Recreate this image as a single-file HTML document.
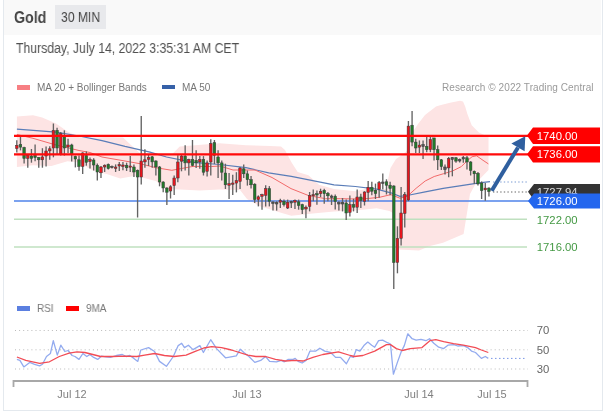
<!DOCTYPE html>
<html><head><meta charset="utf-8">
<style>
html,body{margin:0;padding:0;background:#fff;}
body{width:609px;height:415px;position:relative;overflow:hidden;font-family:"Liberation Sans",sans-serif;}
.frame{position:absolute;left:3px;top:-1px;width:598px;height:410px;border:1px solid #e4e9ee;}
.hdr{position:absolute;left:4px;top:0;width:597px;height:35px;background:#f9f9f9;}
.t{position:absolute;white-space:nowrap;line-height:1;will-change:transform;}
svg{position:absolute;left:0;top:0;will-change:transform;}
</style></head><body>
<div class="frame"></div>
<div class="hdr"></div>
<div class="t" style="left:13.8px;top:9.5px;font-size:15.8px;font-weight:bold;color:#444;transform:scaleX(0.9);transform-origin:0 0;">Gold</div>
<div style="position:absolute;left:55px;top:5px;width:51px;height:24px;background:#e8e9ec;"></div>
<div class="t" style="left:61px;top:10px;font-size:14.2px;color:#444;transform:scaleX(0.855);transform-origin:0 0;">30 MIN</div>
<div class="t" style="left:16px;top:41px;font-size:14px;color:#505050;transform:scaleX(0.875);transform-origin:0 0;">Thursday, July 14, 2022 3:35:31 AM CET</div>
<div style="position:absolute;left:17px;top:85px;width:13px;height:5px;background:#f77f83;"></div>
<div class="t" style="left:37px;top:83px;font-size:10px;color:#777;">MA 20 + Bollinger Bands</div>
<div style="position:absolute;left:162px;top:85px;width:13px;height:4px;background:#3661a8;"></div>
<div class="t" style="left:182px;top:83px;font-size:10px;color:#777;">MA 50</div>
<div class="t" style="left:442px;top:83px;font-size:10px;color:#9a9a9a;letter-spacing:0.08px;">Research © 2022 Trading Central</div>
<div style="position:absolute;left:17px;top:305.5px;width:13px;height:5px;background:#5b7fe0;"></div>
<div class="t" style="left:37px;top:303px;font-size:10.5px;color:#777;transform:scaleX(0.95);transform-origin:0 0;">RSI</div>
<div style="position:absolute;left:66px;top:305.5px;width:13px;height:5px;background:#f00;"></div>
<div class="t" style="left:86px;top:303px;font-size:10.5px;color:#777;transform:scaleX(0.95);transform-origin:0 0;">9MA</div>

<svg width="609" height="415" viewBox="0 0 609 415">
<polygon points="16.9,116.5 33,115.3 42.2,117.6 56,123.4 67.5,131.4 79,137.2 92.8,137.5 106.6,137 123,137.5 132,146 140,153.3 171.8,154.4 179.7,146.5 219.5,143.3 246,145.2 270,146 281,146.5 285,150 291.3,162 297.7,172 308.4,175.2 319,184.8 334,189.1 355.4,191.2 366,189.1 378,189.5 386,189 390.5,168 396,159 402,155 408,150 412,133 418,124 425,115 436,106.5 440,105.2 450,102.8 460,100.7 463,101.4 465.2,106.5 467.3,113.7 471.7,125.2 478.9,132.5 488.5,137 488.5,170 476,183 470,194 467,213 463.6,234 443,242.7 430,246 419,250.5 398,249.5 395,240 393,213 389.5,211 376.7,208.3 355.4,210.4 334,211.5 312.7,213.6 291.3,215.8 278.5,212 269,209 259,206 247,199 240,190 219.4,189.6 199.7,190.5 180,189.6 166.5,188.9 155.9,181 140,177 134.1,176 120.3,178.6 106.6,174 92.8,170.5 79,162.5 67.5,161.3 51.4,165.9 33,165.2 16.9,167" fill="#fde4e4"/>
<polyline points="16.9,129.1 56,132.1 79,136 102,140.6 125,146.4 150,152.1 166.5,157 193,162.4 219.5,164.5 246,167.7 268.7,172.8 291.3,176.3 312.7,180.6 334,184.8 355.4,186.5 376.7,189.1 390.8,192.8 399.9,196.4 407.1,195.5 425.2,191.9 443.2,188.3 461.3,185.6 479.3,182.9 490,181.6" fill="none" stroke="#5a7db8" stroke-width="1.2"/>
<polyline points="16.9,134.5 33,138.3 56,145 79,150.5 90,152.5 102,157 125,161 140,163.7 155.9,167.7 171.8,170.3 193,166.4 211.5,166.5 220,166 233,170 255,170 272,177.5 291,188.6 308.4,195.5 325.5,198.7 340.4,198.7 357,199 368,198.5 380,197.2 390.8,194.6 399.9,198.2 407.1,196.4 416.1,188.3 425.2,181 434.2,176.5 443.2,173.8 452.3,171.1 461.3,166.6 466.7,161.2 472.1,156.7 476.6,155.8 483,160.3 488.4,163.9" fill="none" stroke="#f26a6a" stroke-width="1"/>
<line x1="14" y1="201" x2="530" y2="201" stroke="#4f83ea" stroke-width="1.6"/>
<line x1="14" y1="219.3" x2="527" y2="219.3" stroke="#bfe0bf" stroke-width="1.5"/>
<line x1="14" y1="247.1" x2="527" y2="247.1" stroke="#bfe0bf" stroke-width="1.5"/>
<line x1="16.80" y1="140.3" x2="16.80" y2="152.6" stroke="#636363" stroke-width="1.35"/>
<rect x="15.50" y="145.3" width="2.6" height="3.20" fill="#e8141c" stroke="#3a3a3a" stroke-width="0.5"/>
<line x1="20.46" y1="136.7" x2="20.46" y2="150.4" stroke="#636363" stroke-width="1.35"/>
<rect x="19.16" y="144.6" width="2.6" height="2.50" fill="#217a2a" stroke="#3a3a3a" stroke-width="0.5"/>
<line x1="24.12" y1="146.8" x2="24.12" y2="163.4" stroke="#636363" stroke-width="1.35"/>
<rect x="22.82" y="147.5" width="2.6" height="10.90" fill="#217a2a" stroke="#3a3a3a" stroke-width="0.5"/>
<line x1="27.78" y1="154" x2="27.78" y2="167.7" stroke="#636363" stroke-width="1.35"/>
<rect x="26.48" y="155.5" width="2.6" height="2.90" fill="#e8141c" stroke="#3a3a3a" stroke-width="0.5"/>
<line x1="31.44" y1="149" x2="31.44" y2="162.7" stroke="#636363" stroke-width="1.35"/>
<rect x="30.14" y="156" width="2.6" height="2.40" fill="#217a2a" stroke="#3a3a3a" stroke-width="0.5"/>
<line x1="35.10" y1="144.6" x2="35.10" y2="161.2" stroke="#636363" stroke-width="1.35"/>
<rect x="33.80" y="155.5" width="2.6" height="2.10" fill="#217a2a" stroke="#3a3a3a" stroke-width="0.5"/>
<line x1="38.76" y1="156.9" x2="38.76" y2="167.7" stroke="#636363" stroke-width="1.35"/>
<rect x="37.46" y="157.6" width="2.6" height="2.20" fill="#217a2a" stroke="#3a3a3a" stroke-width="0.5"/>
<line x1="42.42" y1="148.2" x2="42.42" y2="167.7" stroke="#636363" stroke-width="1.35"/>
<rect x="41.12" y="156.9" width="2.6" height="2.90" fill="#e8141c" stroke="#3a3a3a" stroke-width="0.5"/>
<line x1="46.08" y1="146.5" x2="46.08" y2="166.4" stroke="#636363" stroke-width="1.35"/>
<rect x="44.78" y="151" width="2.6" height="5.00" fill="#e8141c" stroke="#3a3a3a" stroke-width="0.5"/>
<line x1="49.74" y1="146.3" x2="49.74" y2="159.8" stroke="#636363" stroke-width="1.35"/>
<rect x="48.44" y="148.8" width="2.6" height="2.10" fill="#e8141c" stroke="#3a3a3a" stroke-width="0.5"/>
<line x1="53.40" y1="123.5" x2="53.40" y2="157.3" stroke="#636363" stroke-width="1.35"/>
<rect x="52.10" y="130.3" width="2.6" height="17.70" fill="#e8141c" stroke="#3a3a3a" stroke-width="0.5"/>
<line x1="57.06" y1="127.8" x2="57.06" y2="153.9" stroke="#636363" stroke-width="1.35"/>
<rect x="55.76" y="130.3" width="2.6" height="17.70" fill="#217a2a" stroke="#3a3a3a" stroke-width="0.5"/>
<line x1="60.72" y1="132" x2="60.72" y2="155.6" stroke="#636363" stroke-width="1.35"/>
<rect x="59.42" y="133.7" width="2.6" height="20.20" fill="#e8141c" stroke="#3a3a3a" stroke-width="0.5"/>
<line x1="64.38" y1="130.3" x2="64.38" y2="155.6" stroke="#636363" stroke-width="1.35"/>
<rect x="63.08" y="136.2" width="2.6" height="11.80" fill="#217a2a" stroke="#3a3a3a" stroke-width="0.5"/>
<line x1="68.04" y1="138.7" x2="68.04" y2="153" stroke="#636363" stroke-width="1.35"/>
<rect x="66.74" y="145" width="2.6" height="2.00" fill="#e8141c" stroke="#3a3a3a" stroke-width="0.5"/>
<line x1="71.70" y1="143.8" x2="71.70" y2="161.5" stroke="#636363" stroke-width="1.35"/>
<rect x="70.40" y="145" width="2.6" height="8.90" fill="#217a2a" stroke="#3a3a3a" stroke-width="0.5"/>
<line x1="75.36" y1="155.6" x2="75.36" y2="167.4" stroke="#636363" stroke-width="1.35"/>
<rect x="74.06" y="156.4" width="2.6" height="2.60" fill="#217a2a" stroke="#3a3a3a" stroke-width="0.5"/>
<line x1="79.02" y1="155.6" x2="79.02" y2="170.8" stroke="#636363" stroke-width="1.35"/>
<rect x="77.72" y="159.8" width="2.6" height="6.70" fill="#217a2a" stroke="#3a3a3a" stroke-width="0.5"/>
<line x1="82.68" y1="152.2" x2="82.68" y2="174" stroke="#636363" stroke-width="1.35"/>
<rect x="81.38" y="153" width="2.6" height="13.50" fill="#e8141c" stroke="#3a3a3a" stroke-width="0.5"/>
<line x1="86.34" y1="151.4" x2="86.34" y2="165.7" stroke="#636363" stroke-width="1.35"/>
<rect x="85.04" y="155.6" width="2.6" height="6.70" fill="#217a2a" stroke="#3a3a3a" stroke-width="0.5"/>
<line x1="90.00" y1="157.5" x2="90.00" y2="168.4" stroke="#636363" stroke-width="1.35"/>
<rect x="88.70" y="159.6" width="2.6" height="1.90" fill="#e8141c" stroke="#3a3a3a" stroke-width="0.5"/>
<line x1="93.66" y1="158.2" x2="93.66" y2="170.5" stroke="#636363" stroke-width="1.35"/>
<rect x="92.36" y="160" width="2.6" height="5.00" fill="#217a2a" stroke="#3a3a3a" stroke-width="0.5"/>
<line x1="97.32" y1="163.5" x2="97.32" y2="180.4" stroke="#636363" stroke-width="1.35"/>
<rect x="96.02" y="165.2" width="2.6" height="6.80" fill="#217a2a" stroke="#3a3a3a" stroke-width="0.5"/>
<line x1="100.98" y1="166" x2="100.98" y2="177.9" stroke="#636363" stroke-width="1.35"/>
<rect x="99.68" y="167" width="2.6" height="5.80" fill="#e8141c" stroke="#3a3a3a" stroke-width="0.5"/>
<line x1="104.64" y1="164.4" x2="104.64" y2="172" stroke="#636363" stroke-width="1.35"/>
<rect x="103.34" y="165.2" width="2.6" height="1.80" fill="#e8141c" stroke="#3a3a3a" stroke-width="0.5"/>
<line x1="108.30" y1="163.5" x2="108.30" y2="169.5" stroke="#636363" stroke-width="1.35"/>
<rect x="107.00" y="164.4" width="2.6" height="4.20" fill="#217a2a" stroke="#3a3a3a" stroke-width="0.5"/>
<line x1="111.96" y1="165.5" x2="111.96" y2="168.5" stroke="#636363" stroke-width="1.35"/>
<rect x="110.66" y="166.5" width="2.6" height="1.20" fill="#555" stroke="#3a3a3a" stroke-width="0.5"/>
<line x1="115.62" y1="164.4" x2="115.62" y2="172" stroke="#636363" stroke-width="1.35"/>
<rect x="114.32" y="167" width="2.6" height="1.50" fill="#e8141c" stroke="#3a3a3a" stroke-width="0.5"/>
<line x1="119.28" y1="161.9" x2="119.28" y2="171" stroke="#636363" stroke-width="1.35"/>
<rect x="117.98" y="164.5" width="2.6" height="1.50" fill="#e8141c" stroke="#3a3a3a" stroke-width="0.5"/>
<line x1="122.94" y1="161.9" x2="122.94" y2="170.3" stroke="#636363" stroke-width="1.35"/>
<rect x="121.64" y="165" width="2.6" height="1.50" fill="#e8141c" stroke="#3a3a3a" stroke-width="0.5"/>
<line x1="126.60" y1="162.7" x2="126.60" y2="171" stroke="#636363" stroke-width="1.35"/>
<rect x="125.30" y="165.2" width="2.6" height="2.60" fill="#217a2a" stroke="#3a3a3a" stroke-width="0.5"/>
<line x1="130.26" y1="156" x2="130.26" y2="172" stroke="#636363" stroke-width="1.35"/>
<rect x="128.96" y="166" width="2.6" height="1.20" fill="#e8141c" stroke="#3a3a3a" stroke-width="0.5"/>
<line x1="133.92" y1="164.4" x2="133.92" y2="177" stroke="#636363" stroke-width="1.35"/>
<rect x="132.62" y="167" width="2.6" height="5.00" fill="#217a2a" stroke="#3a3a3a" stroke-width="0.5"/>
<line x1="137.58" y1="169.5" x2="137.58" y2="217.5" stroke="#636363" stroke-width="1.35"/>
<rect x="136.28" y="170.3" width="2.6" height="6.70" fill="#217a2a" stroke="#3a3a3a" stroke-width="0.5"/>
<line x1="141.24" y1="116" x2="141.24" y2="184.6" stroke="#636363" stroke-width="1.35"/>
<rect x="139.94" y="161" width="2.6" height="16.00" fill="#e8141c" stroke="#3a3a3a" stroke-width="0.5"/>
<line x1="144.90" y1="149.2" x2="144.90" y2="167.8" stroke="#636363" stroke-width="1.35"/>
<rect x="143.60" y="159.8" width="2.6" height="2.10" fill="#e8141c" stroke="#3a3a3a" stroke-width="0.5"/>
<line x1="148.56" y1="155" x2="148.56" y2="166" stroke="#636363" stroke-width="1.35"/>
<rect x="147.26" y="157.6" width="2.6" height="1.70" fill="#e8141c" stroke="#3a3a3a" stroke-width="0.5"/>
<line x1="152.22" y1="156" x2="152.22" y2="167.8" stroke="#636363" stroke-width="1.35"/>
<rect x="150.92" y="156.8" width="2.6" height="5.10" fill="#217a2a" stroke="#3a3a3a" stroke-width="0.5"/>
<line x1="155.88" y1="160.2" x2="155.88" y2="175.4" stroke="#636363" stroke-width="1.35"/>
<rect x="154.58" y="161" width="2.6" height="6.00" fill="#217a2a" stroke="#3a3a3a" stroke-width="0.5"/>
<line x1="159.54" y1="166" x2="159.54" y2="186.3" stroke="#636363" stroke-width="1.35"/>
<rect x="158.24" y="167" width="2.6" height="15.00" fill="#217a2a" stroke="#3a3a3a" stroke-width="0.5"/>
<line x1="163.20" y1="181.3" x2="163.20" y2="192.2" stroke="#636363" stroke-width="1.35"/>
<rect x="161.90" y="182" width="2.6" height="6.00" fill="#217a2a" stroke="#3a3a3a" stroke-width="0.5"/>
<line x1="166.86" y1="187.2" x2="166.86" y2="204.9" stroke="#636363" stroke-width="1.35"/>
<rect x="165.56" y="188" width="2.6" height="4.20" fill="#217a2a" stroke="#3a3a3a" stroke-width="0.5"/>
<line x1="170.52" y1="185.2" x2="170.52" y2="198.5" stroke="#636363" stroke-width="1.35"/>
<rect x="169.22" y="186.8" width="2.6" height="4.20" fill="#e8141c" stroke="#3a3a3a" stroke-width="0.5"/>
<line x1="174.18" y1="175.5" x2="174.18" y2="195" stroke="#636363" stroke-width="1.35"/>
<rect x="172.88" y="178" width="2.6" height="7.60" fill="#e8141c" stroke="#3a3a3a" stroke-width="0.5"/>
<line x1="177.84" y1="155.3" x2="177.84" y2="182.3" stroke="#636363" stroke-width="1.35"/>
<rect x="176.54" y="162" width="2.6" height="16.00" fill="#e8141c" stroke="#3a3a3a" stroke-width="0.5"/>
<line x1="181.50" y1="154.5" x2="181.50" y2="171.3" stroke="#636363" stroke-width="1.35"/>
<rect x="180.20" y="156.1" width="2.6" height="5.10" fill="#e8141c" stroke="#3a3a3a" stroke-width="0.5"/>
<line x1="185.16" y1="145.2" x2="185.16" y2="170.5" stroke="#636363" stroke-width="1.35"/>
<rect x="183.86" y="156.1" width="2.6" height="6.80" fill="#217a2a" stroke="#3a3a3a" stroke-width="0.5"/>
<line x1="188.82" y1="158.7" x2="188.82" y2="175.5" stroke="#636363" stroke-width="1.35"/>
<rect x="187.52" y="159.5" width="2.6" height="3.40" fill="#e8141c" stroke="#3a3a3a" stroke-width="0.5"/>
<line x1="192.48" y1="140" x2="192.48" y2="166.3" stroke="#636363" stroke-width="1.35"/>
<rect x="191.18" y="159.5" width="2.6" height="5.90" fill="#217a2a" stroke="#3a3a3a" stroke-width="0.5"/>
<line x1="196.14" y1="150.2" x2="196.14" y2="168" stroke="#636363" stroke-width="1.35"/>
<rect x="194.84" y="160.4" width="2.6" height="2.50" fill="#217a2a" stroke="#3a3a3a" stroke-width="0.5"/>
<line x1="199.80" y1="156.1" x2="199.80" y2="168.8" stroke="#636363" stroke-width="1.35"/>
<rect x="198.50" y="159.5" width="2.6" height="2.50" fill="#e8141c" stroke="#3a3a3a" stroke-width="0.5"/>
<line x1="203.46" y1="156.1" x2="203.46" y2="175.5" stroke="#636363" stroke-width="1.35"/>
<rect x="202.16" y="159.5" width="2.6" height="12.70" fill="#217a2a" stroke="#3a3a3a" stroke-width="0.5"/>
<line x1="207.12" y1="160.4" x2="207.12" y2="176.4" stroke="#636363" stroke-width="1.35"/>
<rect x="205.82" y="162.9" width="2.6" height="8.40" fill="#e8141c" stroke="#3a3a3a" stroke-width="0.5"/>
<line x1="210.78" y1="139.3" x2="210.78" y2="175.5" stroke="#636363" stroke-width="1.35"/>
<rect x="209.48" y="143.5" width="2.6" height="18.50" fill="#e8141c" stroke="#3a3a3a" stroke-width="0.5"/>
<line x1="214.44" y1="140" x2="214.44" y2="164" stroke="#636363" stroke-width="1.35"/>
<rect x="213.14" y="142.6" width="2.6" height="12.70" fill="#217a2a" stroke="#3a3a3a" stroke-width="0.5"/>
<line x1="218.10" y1="150.2" x2="218.10" y2="178" stroke="#636363" stroke-width="1.35"/>
<rect x="216.80" y="157" width="2.6" height="5.90" fill="#217a2a" stroke="#3a3a3a" stroke-width="0.5"/>
<line x1="221.76" y1="160.4" x2="221.76" y2="180.6" stroke="#636363" stroke-width="1.35"/>
<rect x="220.46" y="162.9" width="2.6" height="9.30" fill="#217a2a" stroke="#3a3a3a" stroke-width="0.5"/>
<line x1="225.42" y1="163.7" x2="225.42" y2="189" stroke="#636363" stroke-width="1.35"/>
<rect x="224.12" y="173" width="2.6" height="11.80" fill="#217a2a" stroke="#3a3a3a" stroke-width="0.5"/>
<line x1="229.08" y1="173" x2="229.08" y2="199" stroke="#636363" stroke-width="1.35"/>
<rect x="227.78" y="183.6" width="2.6" height="1.70" fill="#e8141c" stroke="#3a3a3a" stroke-width="0.5"/>
<line x1="232.74" y1="174.7" x2="232.74" y2="195" stroke="#636363" stroke-width="1.35"/>
<rect x="231.44" y="183" width="2.6" height="1.30" fill="#e8141c" stroke="#3a3a3a" stroke-width="0.5"/>
<line x1="236.40" y1="172.2" x2="236.40" y2="192.4" stroke="#636363" stroke-width="1.35"/>
<rect x="235.10" y="180.6" width="2.6" height="2.50" fill="#e8141c" stroke="#3a3a3a" stroke-width="0.5"/>
<line x1="240.06" y1="167" x2="240.06" y2="189" stroke="#636363" stroke-width="1.35"/>
<rect x="238.76" y="168" width="2.6" height="13.40" fill="#e8141c" stroke="#3a3a3a" stroke-width="0.5"/>
<line x1="243.72" y1="164.6" x2="243.72" y2="178" stroke="#636363" stroke-width="1.35"/>
<rect x="242.42" y="168.8" width="2.6" height="5.00" fill="#217a2a" stroke="#3a3a3a" stroke-width="0.5"/>
<line x1="247.38" y1="170.5" x2="247.38" y2="185.6" stroke="#636363" stroke-width="1.35"/>
<rect x="246.08" y="173.8" width="2.6" height="5.90" fill="#217a2a" stroke="#3a3a3a" stroke-width="0.5"/>
<line x1="251.04" y1="176" x2="251.04" y2="188.5" stroke="#636363" stroke-width="1.35"/>
<rect x="249.74" y="179.7" width="2.6" height="5.10" fill="#217a2a" stroke="#3a3a3a" stroke-width="0.5"/>
<line x1="254.70" y1="183.3" x2="254.70" y2="203" stroke="#636363" stroke-width="1.35"/>
<rect x="253.40" y="184.2" width="2.6" height="15.30" fill="#217a2a" stroke="#3a3a3a" stroke-width="0.5"/>
<line x1="258.36" y1="195.4" x2="258.36" y2="206.4" stroke="#636363" stroke-width="1.35"/>
<rect x="257.06" y="196.8" width="2.6" height="2.80" fill="#e8141c" stroke="#3a3a3a" stroke-width="0.5"/>
<line x1="262.02" y1="193.7" x2="262.02" y2="209.7" stroke="#636363" stroke-width="1.35"/>
<rect x="260.72" y="194.6" width="2.6" height="1.70" fill="#e8141c" stroke="#3a3a3a" stroke-width="0.5"/>
<line x1="265.68" y1="185.3" x2="265.68" y2="206.4" stroke="#636363" stroke-width="1.35"/>
<rect x="264.38" y="188.7" width="2.6" height="6.70" fill="#e8141c" stroke="#3a3a3a" stroke-width="0.5"/>
<line x1="269.34" y1="186.1" x2="269.34" y2="206.4" stroke="#636363" stroke-width="1.35"/>
<rect x="268.04" y="188.7" width="2.6" height="12.60" fill="#217a2a" stroke="#3a3a3a" stroke-width="0.5"/>
<line x1="273.00" y1="201.3" x2="273.00" y2="210.6" stroke="#636363" stroke-width="1.35"/>
<rect x="271.70" y="202" width="2.6" height="1.50" fill="#555" stroke="#3a3a3a" stroke-width="0.5"/>
<line x1="276.66" y1="201.3" x2="276.66" y2="210.6" stroke="#636363" stroke-width="1.35"/>
<rect x="275.36" y="202.5" width="2.6" height="1.50" fill="#555" stroke="#3a3a3a" stroke-width="0.5"/>
<line x1="280.32" y1="198.8" x2="280.32" y2="208" stroke="#636363" stroke-width="1.35"/>
<rect x="279.02" y="200.5" width="2.6" height="1.70" fill="#e8141c" stroke="#3a3a3a" stroke-width="0.5"/>
<line x1="283.98" y1="199.6" x2="283.98" y2="206.4" stroke="#636363" stroke-width="1.35"/>
<rect x="282.68" y="201.3" width="2.6" height="3.40" fill="#217a2a" stroke="#3a3a3a" stroke-width="0.5"/>
<line x1="287.64" y1="199.6" x2="287.64" y2="209" stroke="#636363" stroke-width="1.35"/>
<rect x="286.34" y="202.2" width="2.6" height="5.80" fill="#e8141c" stroke="#3a3a3a" stroke-width="0.5"/>
<line x1="291.30" y1="200.8" x2="291.30" y2="208" stroke="#636363" stroke-width="1.35"/>
<rect x="290.00" y="201.5" width="2.6" height="1.50" fill="#555" stroke="#3a3a3a" stroke-width="0.5"/>
<line x1="294.96" y1="199.6" x2="294.96" y2="209" stroke="#636363" stroke-width="1.35"/>
<rect x="293.66" y="200.5" width="2.6" height="1.70" fill="#e8141c" stroke="#3a3a3a" stroke-width="0.5"/>
<line x1="298.62" y1="199.6" x2="298.62" y2="209.7" stroke="#636363" stroke-width="1.35"/>
<rect x="297.32" y="201.8" width="2.6" height="3.70" fill="#217a2a" stroke="#3a3a3a" stroke-width="0.5"/>
<line x1="302.28" y1="203.8" x2="302.28" y2="214" stroke="#636363" stroke-width="1.35"/>
<rect x="300.98" y="204.7" width="2.6" height="5.00" fill="#217a2a" stroke="#3a3a3a" stroke-width="0.5"/>
<line x1="305.94" y1="205.5" x2="305.94" y2="218.2" stroke="#636363" stroke-width="1.35"/>
<rect x="304.64" y="207.2" width="2.6" height="1.80" fill="#e8141c" stroke="#3a3a3a" stroke-width="0.5"/>
<line x1="309.60" y1="192" x2="309.60" y2="211.4" stroke="#636363" stroke-width="1.35"/>
<rect x="308.30" y="195.4" width="2.6" height="11.00" fill="#e8141c" stroke="#3a3a3a" stroke-width="0.5"/>
<line x1="313.26" y1="189.5" x2="313.26" y2="201.3" stroke="#636363" stroke-width="1.35"/>
<rect x="311.96" y="194.6" width="2.6" height="1.20" fill="#e8141c" stroke="#3a3a3a" stroke-width="0.5"/>
<line x1="316.92" y1="190.4" x2="316.92" y2="204.7" stroke="#636363" stroke-width="1.35"/>
<rect x="315.62" y="193.7" width="2.6" height="1.30" fill="#217a2a" stroke="#3a3a3a" stroke-width="0.5"/>
<line x1="320.58" y1="188.7" x2="320.58" y2="197" stroke="#636363" stroke-width="1.35"/>
<rect x="319.28" y="191.2" width="2.6" height="2.50" fill="#e8141c" stroke="#3a3a3a" stroke-width="0.5"/>
<line x1="324.24" y1="188.7" x2="324.24" y2="203.8" stroke="#636363" stroke-width="1.35"/>
<rect x="322.94" y="190.4" width="2.6" height="3.30" fill="#217a2a" stroke="#3a3a3a" stroke-width="0.5"/>
<line x1="327.90" y1="192" x2="327.90" y2="201.3" stroke="#636363" stroke-width="1.35"/>
<rect x="326.60" y="193.4" width="2.6" height="2.40" fill="#217a2a" stroke="#3a3a3a" stroke-width="0.5"/>
<line x1="331.56" y1="194.6" x2="331.56" y2="205" stroke="#636363" stroke-width="1.35"/>
<rect x="330.26" y="196" width="2.6" height="1.50" fill="#555" stroke="#3a3a3a" stroke-width="0.5"/>
<line x1="335.22" y1="194.6" x2="335.22" y2="209.5" stroke="#636363" stroke-width="1.35"/>
<rect x="333.92" y="196.3" width="2.6" height="5.20" fill="#217a2a" stroke="#3a3a3a" stroke-width="0.5"/>
<line x1="338.88" y1="201.3" x2="338.88" y2="210.6" stroke="#636363" stroke-width="1.35"/>
<rect x="337.58" y="202.5" width="2.6" height="1.50" fill="#555" stroke="#3a3a3a" stroke-width="0.5"/>
<line x1="342.54" y1="198" x2="342.54" y2="211.4" stroke="#636363" stroke-width="1.35"/>
<rect x="341.24" y="202.5" width="2.6" height="1.50" fill="#555" stroke="#3a3a3a" stroke-width="0.5"/>
<line x1="346.20" y1="199.6" x2="346.20" y2="219.9" stroke="#636363" stroke-width="1.35"/>
<rect x="344.90" y="203" width="2.6" height="10.00" fill="#217a2a" stroke="#3a3a3a" stroke-width="0.5"/>
<line x1="349.86" y1="195.4" x2="349.86" y2="216.5" stroke="#636363" stroke-width="1.35"/>
<rect x="348.56" y="204.7" width="2.6" height="7.60" fill="#e8141c" stroke="#3a3a3a" stroke-width="0.5"/>
<line x1="353.52" y1="198.8" x2="353.52" y2="211.4" stroke="#636363" stroke-width="1.35"/>
<rect x="352.22" y="204.7" width="2.6" height="2.50" fill="#217a2a" stroke="#3a3a3a" stroke-width="0.5"/>
<line x1="357.18" y1="189.5" x2="357.18" y2="213" stroke="#636363" stroke-width="1.35"/>
<rect x="355.88" y="197" width="2.6" height="10.20" fill="#e8141c" stroke="#3a3a3a" stroke-width="0.5"/>
<line x1="360.84" y1="193.7" x2="360.84" y2="208" stroke="#636363" stroke-width="1.35"/>
<rect x="359.54" y="197" width="2.6" height="3.50" fill="#217a2a" stroke="#3a3a3a" stroke-width="0.5"/>
<line x1="364.50" y1="191.2" x2="364.50" y2="205.5" stroke="#636363" stroke-width="1.35"/>
<rect x="363.20" y="192" width="2.6" height="9.30" fill="#e8141c" stroke="#3a3a3a" stroke-width="0.5"/>
<line x1="368.16" y1="181" x2="368.16" y2="201.3" stroke="#636363" stroke-width="1.35"/>
<rect x="366.86" y="187.3" width="2.6" height="5.20" fill="#e8141c" stroke="#3a3a3a" stroke-width="0.5"/>
<line x1="371.82" y1="181.8" x2="371.82" y2="195.3" stroke="#636363" stroke-width="1.35"/>
<rect x="370.52" y="187.3" width="2.6" height="3.90" fill="#217a2a" stroke="#3a3a3a" stroke-width="0.5"/>
<line x1="375.48" y1="183.6" x2="375.48" y2="199" stroke="#636363" stroke-width="1.35"/>
<rect x="374.18" y="190.3" width="2.6" height="3.20" fill="#217a2a" stroke="#3a3a3a" stroke-width="0.5"/>
<line x1="379.14" y1="181" x2="379.14" y2="197.8" stroke="#636363" stroke-width="1.35"/>
<rect x="377.84" y="182.6" width="2.6" height="6.80" fill="#e8141c" stroke="#3a3a3a" stroke-width="0.5"/>
<line x1="382.80" y1="173.4" x2="382.80" y2="189.4" stroke="#636363" stroke-width="1.35"/>
<rect x="381.50" y="182" width="2.6" height="1.50" fill="#555" stroke="#3a3a3a" stroke-width="0.5"/>
<line x1="386.46" y1="179.3" x2="386.46" y2="194.5" stroke="#636363" stroke-width="1.35"/>
<rect x="385.16" y="181.8" width="2.6" height="3.40" fill="#217a2a" stroke="#3a3a3a" stroke-width="0.5"/>
<line x1="390.12" y1="181.8" x2="390.12" y2="195.3" stroke="#636363" stroke-width="1.35"/>
<rect x="388.82" y="185.2" width="2.6" height="3.30" fill="#217a2a" stroke="#3a3a3a" stroke-width="0.5"/>
<line x1="393.78" y1="185.2" x2="393.78" y2="289" stroke="#636363" stroke-width="1.35"/>
<rect x="392.48" y="186" width="2.6" height="76.50" fill="#217a2a" stroke="#3a3a3a" stroke-width="0.5"/>
<line x1="397.44" y1="226.3" x2="397.44" y2="273.3" stroke="#636363" stroke-width="1.35"/>
<rect x="396.14" y="238.4" width="2.6" height="24.10" fill="#e8141c" stroke="#3a3a3a" stroke-width="0.5"/>
<line x1="401.10" y1="186.9" x2="401.10" y2="245.6" stroke="#636363" stroke-width="1.35"/>
<rect x="399.80" y="213" width="2.6" height="25.40" fill="#e8141c" stroke="#3a3a3a" stroke-width="0.5"/>
<line x1="404.76" y1="192" x2="404.76" y2="227.5" stroke="#636363" stroke-width="1.35"/>
<rect x="403.46" y="194.5" width="2.6" height="19.00" fill="#e8141c" stroke="#3a3a3a" stroke-width="0.5"/>
<line x1="408.42" y1="121" x2="408.42" y2="201.2" stroke="#636363" stroke-width="1.35"/>
<rect x="407.12" y="126.1" width="2.6" height="73.90" fill="#e8141c" stroke="#3a3a3a" stroke-width="0.5"/>
<line x1="412.08" y1="110.9" x2="412.08" y2="146.3" stroke="#636363" stroke-width="1.35"/>
<rect x="410.78" y="125.2" width="2.6" height="16.90" fill="#217a2a" stroke="#3a3a3a" stroke-width="0.5"/>
<line x1="415.74" y1="138.7" x2="415.74" y2="153" stroke="#636363" stroke-width="1.35"/>
<rect x="414.44" y="142.1" width="2.6" height="5.90" fill="#217a2a" stroke="#3a3a3a" stroke-width="0.5"/>
<line x1="419.40" y1="140.4" x2="419.40" y2="153" stroke="#636363" stroke-width="1.35"/>
<rect x="418.10" y="145.1" width="2.6" height="2.10" fill="#e8141c" stroke="#3a3a3a" stroke-width="0.5"/>
<line x1="423.06" y1="140.4" x2="423.06" y2="159" stroke="#636363" stroke-width="1.35"/>
<rect x="421.76" y="144.5" width="2.6" height="2.00" fill="#555" stroke="#3a3a3a" stroke-width="0.5"/>
<line x1="426.72" y1="137" x2="426.72" y2="152.2" stroke="#636363" stroke-width="1.35"/>
<rect x="425.42" y="146.3" width="2.6" height="3.40" fill="#217a2a" stroke="#3a3a3a" stroke-width="0.5"/>
<line x1="430.38" y1="137" x2="430.38" y2="152.2" stroke="#636363" stroke-width="1.35"/>
<rect x="429.08" y="139.6" width="2.6" height="10.10" fill="#e8141c" stroke="#3a3a3a" stroke-width="0.5"/>
<line x1="434.04" y1="137.9" x2="434.04" y2="160.6" stroke="#636363" stroke-width="1.35"/>
<rect x="432.74" y="137.9" width="2.6" height="11.80" fill="#217a2a" stroke="#3a3a3a" stroke-width="0.5"/>
<line x1="437.70" y1="145.5" x2="437.70" y2="170" stroke="#636363" stroke-width="1.35"/>
<rect x="436.40" y="149.7" width="2.6" height="10.10" fill="#217a2a" stroke="#3a3a3a" stroke-width="0.5"/>
<line x1="441.36" y1="159" x2="441.36" y2="170" stroke="#636363" stroke-width="1.35"/>
<rect x="440.06" y="159.8" width="2.6" height="6.80" fill="#217a2a" stroke="#3a3a3a" stroke-width="0.5"/>
<line x1="445.02" y1="164.5" x2="445.02" y2="174.6" stroke="#636363" stroke-width="1.35"/>
<rect x="443.72" y="167" width="2.6" height="2.50" fill="#555" stroke="#3a3a3a" stroke-width="0.5"/>
<line x1="448.68" y1="157" x2="448.68" y2="177.2" stroke="#636363" stroke-width="1.35"/>
<rect x="447.38" y="158.6" width="2.6" height="9.30" fill="#e8141c" stroke="#3a3a3a" stroke-width="0.5"/>
<line x1="452.34" y1="157" x2="452.34" y2="176.3" stroke="#636363" stroke-width="1.35"/>
<rect x="451.04" y="157.5" width="2.6" height="2.00" fill="#555" stroke="#3a3a3a" stroke-width="0.5"/>
<line x1="456.00" y1="157" x2="456.00" y2="162.8" stroke="#636363" stroke-width="1.35"/>
<rect x="454.70" y="157.8" width="2.6" height="3.30" fill="#217a2a" stroke="#3a3a3a" stroke-width="0.5"/>
<line x1="459.66" y1="158.5" x2="459.66" y2="162.5" stroke="#636363" stroke-width="1.35"/>
<rect x="458.36" y="159.5" width="2.6" height="1.50" fill="#555" stroke="#3a3a3a" stroke-width="0.5"/>
<line x1="463.32" y1="156" x2="463.32" y2="162.8" stroke="#636363" stroke-width="1.35"/>
<rect x="462.02" y="157.5" width="2.6" height="1.50" fill="#555" stroke="#3a3a3a" stroke-width="0.5"/>
<line x1="466.98" y1="156" x2="466.98" y2="169.6" stroke="#636363" stroke-width="1.35"/>
<rect x="465.68" y="157.8" width="2.6" height="4.20" fill="#217a2a" stroke="#3a3a3a" stroke-width="0.5"/>
<line x1="470.64" y1="161.1" x2="470.64" y2="175.5" stroke="#636363" stroke-width="1.35"/>
<rect x="469.34" y="162" width="2.6" height="8.40" fill="#217a2a" stroke="#3a3a3a" stroke-width="0.5"/>
<line x1="474.30" y1="170.4" x2="474.30" y2="183.9" stroke="#636363" stroke-width="1.35"/>
<rect x="473.00" y="171.3" width="2.6" height="2.50" fill="#217a2a" stroke="#3a3a3a" stroke-width="0.5"/>
<line x1="477.96" y1="172.1" x2="477.96" y2="185.6" stroke="#636363" stroke-width="1.35"/>
<rect x="476.66" y="173.4" width="2.6" height="10.50" fill="#217a2a" stroke="#3a3a3a" stroke-width="0.5"/>
<line x1="481.62" y1="181.4" x2="481.62" y2="199" stroke="#636363" stroke-width="1.35"/>
<rect x="480.32" y="183" width="2.6" height="7.60" fill="#217a2a" stroke="#3a3a3a" stroke-width="0.5"/>
<line x1="485.28" y1="183" x2="485.28" y2="200.8" stroke="#636363" stroke-width="1.35"/>
<rect x="483.98" y="188.1" width="2.6" height="1.70" fill="#e8141c" stroke="#3a3a3a" stroke-width="0.5"/>
<line x1="488.94" y1="187.3" x2="488.94" y2="196.6" stroke="#636363" stroke-width="1.35"/>
<rect x="487.64" y="188.1" width="2.6" height="3.40" fill="#217a2a" stroke="#3a3a3a" stroke-width="0.5"/>
<line x1="14" y1="135.8" x2="530" y2="135.8" stroke="#ff0a0a" stroke-width="2.2"/>
<line x1="14" y1="154.4" x2="530" y2="154.4" stroke="#ff0a0a" stroke-width="2.2"/>
<line x1="493" y1="182" x2="527" y2="182" stroke="#7b9bd3" stroke-width="1.2" stroke-dasharray="1.4 2.2"/>
<line x1="493" y1="192" x2="527" y2="192" stroke="#666" stroke-width="1.2" stroke-dasharray="1.4 2.2"/>
<line x1="491.7" y1="190.7" x2="518" y2="147.5" stroke="#2f5f9f" stroke-width="4"/>
<polygon points="525.3,136.2 511.4,143.4 524.6,151.3" fill="#2f5f9f"/>
<polygon points="527,135.6 533,127.5 600,127.5 600,144 533,144" fill="#ff0000"/>
<text x="536.8" y="139.7" font-size="11.3" fill="#fff" font-family="Liberation Sans">1740.00</text>
<polygon points="527,154.2 533,146.2 600,146.2 600,162.5 533,162.5" fill="#ff0000"/>
<text x="536.8" y="158.3" font-size="11.3" fill="#fff" font-family="Liberation Sans">1736.00</text>
<polygon points="528,191.8 534,184 600,184 600,200 534,200" fill="#333"/>
<text x="536.8" y="195.8" font-size="11.3" fill="#ddd" font-family="Liberation Sans">1727.94</text>
<polygon points="528,201 534,193.5 600,193.5 600,208.5 534,208.5" fill="#2366ee"/>
<text x="536.8" y="205.2" font-size="11.3" fill="#fff" font-family="Liberation Sans">1726.00</text>
<text x="536.8" y="223.5" font-size="11.3" fill="#449944" font-family="Liberation Sans">1722.00</text>
<text x="536.8" y="251.3" font-size="11.3" fill="#449944" font-family="Liberation Sans">1716.00</text>

<line x1="14" y1="330.5" x2="528" y2="330.5" stroke="#bbb" stroke-width="1" stroke-dasharray="1 3.1" stroke-dashoffset="-1"/>
<line x1="14" y1="349.8" x2="528" y2="349.8" stroke="#bbb" stroke-width="1" stroke-dasharray="1 3.1" stroke-dashoffset="-1"/>
<line x1="14" y1="369" x2="528" y2="369" stroke="#bbb" stroke-width="1" stroke-dasharray="1 3.1" stroke-dashoffset="-1"/>
<text x="536.8" y="334.4" font-size="11.3" fill="#666" font-family="Liberation Sans">70</text>
<text x="536.8" y="353.6" font-size="11.3" fill="#666" font-family="Liberation Sans">50</text>
<text x="536.8" y="372.8" font-size="11.3" fill="#666" font-family="Liberation Sans">30</text>
<polyline points="16.9,359.4 19.9,360.4 23.8,366.9 29.7,362.4 34.6,364.3 39.6,365.9 42.5,364.3 46.5,356.5 50.4,353.5 53.3,340.7 57.3,355.1 60.8,345.2 64.8,351.5 68.1,350.5 72.1,355.5 75,356.5 79,359.4 82.9,353.5 86.8,356.5 89.8,354.5 93.7,357.4 97.7,359.4 101.6,356.1 105.6,356.8 110.5,357.4 116.4,355.5 122.3,354.5 126.3,356.5 129.9,355.5 133.9,358.4 137.8,361.4 140.8,350 148.6,347.6 154.6,351.5 159.5,361.4 166.4,366.3 173.3,356.5 178.2,345.6 181.7,343.3 184.5,347.6 188.4,345.2 193,349.6 199.9,345.6 203.4,352.5 210.7,339.7 216.6,348.6 225.5,357.8 236.3,355.9 240.3,349.2 243.9,352.5 248.9,356.5 254.8,362.4 260.7,360.4 265.6,356.5 269.6,361.4 276.5,361.8 281.4,360.4 284.3,361.8 288.3,359.4 293.2,359.4 295.2,358.4 298.1,361.4 302.1,363 306,360.4 310,351.1 315.9,351.1 319.8,348.2 324.7,351.1 330.6,352.5 335.6,357.4 340.5,357.4 346.4,363.7 350.3,356.5 353.3,357.4 356.3,349.6 359.9,351.1 363.9,345.6 367.8,342.1 371.7,345.2 374.7,347.2 378.6,340.7 382.6,340.1 387.5,342.7 390.5,344 393.4,374.2 397.4,362.4 401.3,351.5 404.3,345.6 407.8,333.8 412.1,338.7 416.1,340.1 421,339.3 425.9,340.7 429.5,338.7 433.8,343.3 438.7,347.2 443.7,348.6 447.9,345.2 453.8,344.6 457.7,346 463.6,345.6 467.6,347.6 471.5,351.1 475.5,352.5 481.4,358.4 485.3,356.5 488.3,358.4" fill="none" stroke="#93abef" stroke-width="1.3" stroke-linejoin="round"/>
<line x1="491" y1="358.4" x2="527" y2="358.4" stroke="#7895e6" stroke-width="1" stroke-dasharray="1.5 2.5"/>
<polyline points="16.9,357 25.8,360.4 39.6,363.3 49.4,361.8 59.3,356.5 69.1,353.1 77,351.9 84.9,352.5 92.8,354.5 100.6,356.5 112.5,356.5 124.3,356.1 136.8,356.5 144.7,355.1 154.6,353.5 164.4,355.5 174.3,356.5 186.1,355.1 194,351.9 203.8,348 211.7,346.6 221.6,347.6 231.4,350 247.9,355.1 255.8,356.5 265.6,356.5 275.5,359.4 285.3,361 295.2,360.4 303,361 312.9,357.4 322.8,354.5 338.5,351.9 350.3,355.5 354.3,356.5 362.9,355.5 374.7,351.1 386.5,344.6 390.5,344.6 396.4,348.6 402.3,350.5 410.2,348.6 422,347.6 429.9,340.7 435.8,339.7 443.7,341.7 453.5,343.6 463.4,345.2 475.5,347.6 481.4,350 488.3,352.5" fill="none" stroke="#f24c55" stroke-width="1.3" stroke-linejoin="round"/>

<path d="M13.5,387 V381 H527.5 V387" fill="none" stroke="#a8a8a8" stroke-width="1.8"/>
<text x="72" y="398.1" font-size="11" fill="#808080" text-anchor="middle" font-family="Liberation Sans">Jul 12</text>
<text x="247" y="398.1" font-size="11" fill="#808080" text-anchor="middle" font-family="Liberation Sans">Jul 13</text>
<text x="419" y="398.1" font-size="11" fill="#808080" text-anchor="middle" font-family="Liberation Sans">Jul 14</text>
<text x="492" y="398.1" font-size="11" fill="#808080" text-anchor="middle" font-family="Liberation Sans">Jul 15</text>
</svg>
</body></html>
